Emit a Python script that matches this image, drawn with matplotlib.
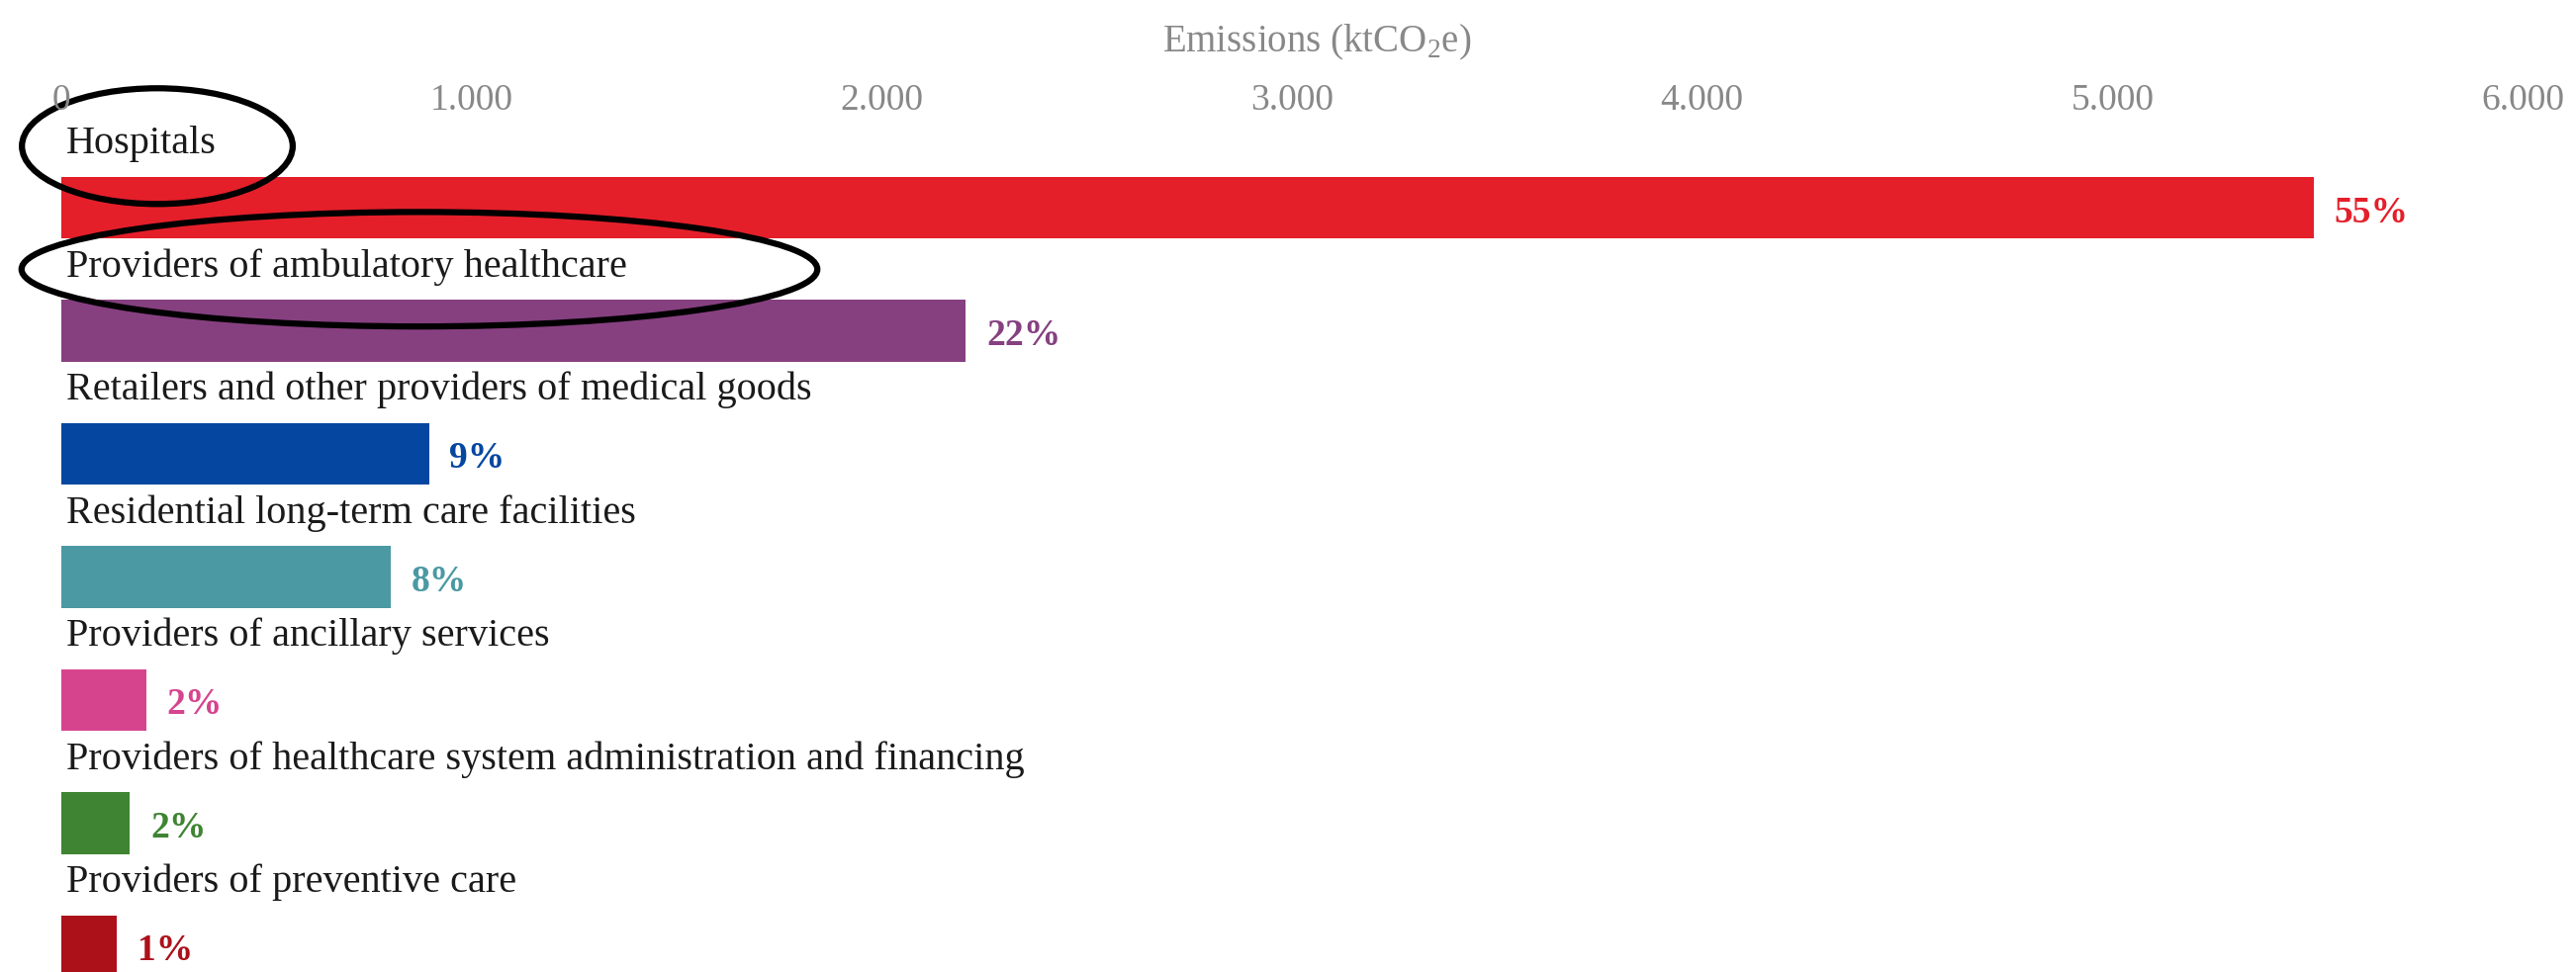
import numpy as np
import matplotlib.pyplot as plt
from matplotlib.patches import Ellipse

plt.rcParams['font.family'] = ['Liberation Serif', 'DejaVu Serif']
plt.rcParams['mathtext.fontset'] = 'custom'
plt.rcParams['mathtext.rm'] = 'Liberation Serif'

# data
sectors = ['Hospitals',
           'Providers of ambulatory healthcare',
           'Retailers and other providers of medical goods',
           'Residential long-term care facilities',
           'Providers of ancillary services',
           'Providers of healthcare system administration and financing',
           'Providers of preventive care']
emissions = [5490, 2205, 896, 804, 207, 167, 135]
shares = ['55%', '22%', '9%', '8%', '2%', '2%', '1%']
colors = ['#E41F2A', '#864080', '#0547A0', '#4A99A3', '#D6448E', '#3E8432', '#AC111A']
xticks = [0, 1000, 2000, 3000, 4000, 5000, 6000]
xticklabels = ['0', '1.000', '2.000', '3.000', '4.000', '5.000', '6.000']

W, H = 2604, 983
fig = plt.figure(figsize=(W / 100, H / 100), dpi=100)
ax = fig.add_axes([62 / W, 0, (2550 - 62) / W, 1 - 125 / H])

y = np.arange(len(sectors))
ax.barh(y, emissions, height=0.5, color=colors)

for i in range(len(sectors)):
    ax.text(12, y[i] - 0.44, sectors[i], fontsize=29, va='baseline', ha='left', color='#1a1a1a')
    ax.text(emissions[i] + 50, y[i] + 0.04, shares[i], fontsize=27, fontweight='bold',
            va='center', ha='left', color=colors[i])

# ovals drawn round the first two labels
ax.add_patch(Ellipse((234, -0.5), 660, 0.94, fill=False, lw=4.5, ec='black', clip_on=False))
ax.add_patch(Ellipse((873, 1 - 0.5), 1940, 0.93, fill=False, lw=4.5, ec='black', clip_on=False))

ax.set_xlim(0, 6000)
ax.set_ylim(6.209, -0.683)
ax.xaxis.tick_top()
ax.set_xticks(xticks)
ax.set_xticklabels(xticklabels, fontsize=27, color='#888888')
ax.tick_params(axis='x', length=0, pad=4)
ax.set_yticks([])
ax.xaxis.set_label_position('top')
ax.set_xlabel('Emissions (ktCO$_2$e)', fontsize=28, color='#888888', labelpad=24)
ax.xaxis.set_label_coords(0.51, 1.085)
for s in ax.spines.values():
    s.set_visible(False)

fig.savefig('out.png', dpi=100)
